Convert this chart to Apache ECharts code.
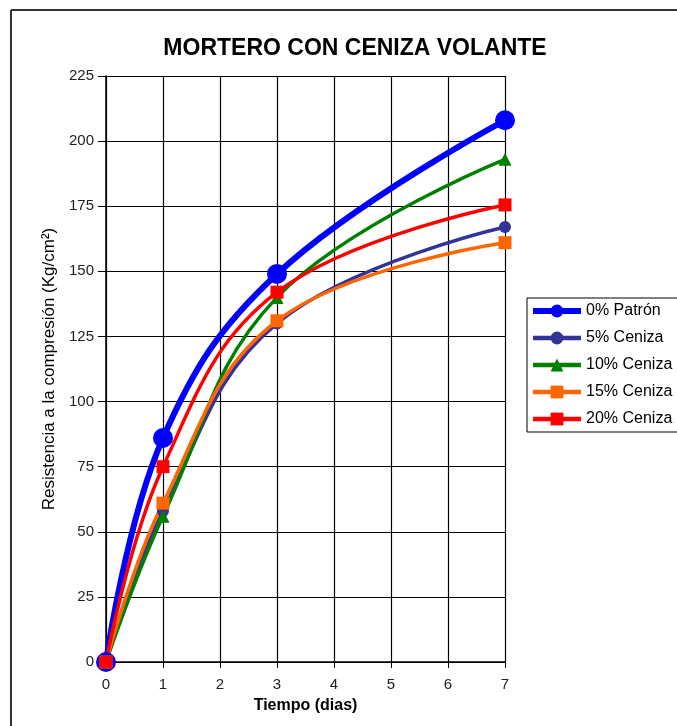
<!DOCTYPE html>
<html>
<head>
<meta charset="utf-8">
<script src="https://cdn.jsdelivr.net/npm/echarts@6/dist/echarts.min.js"></script>
<style>
  html, body { margin: 0; padding: 0; background: #fff; }
  #chart { width: 677px; height: 726px; }
</style>
</head>
<body>
<div id="chart"></div>
<script>
// días de ensayo y resistencias
const dias = [0, 1, 3, 7]
const patron0 = [0, 86, 149, 208]
const ceniza5 = [0, 58, 130, 167]
const ceniza10 = [0, 56, 140, 193]
const ceniza15 = [0, 61, 131, 161]
const ceniza20 = [0, 75, 142, 175.5]
const nombres = ['0% Patrón', '5% Ceniza', '10% Ceniza', '15% Ceniza', '20% Ceniza']

const font = '"Liberation Sans", Arial, sans-serif'

function pares (vals) {
  return dias.map((d, i) => [d, vals[i]])
}

function serie (name, vals, color, width, symbol, size) {
  return {
    name: name,
    type: 'line',
    smooth: 0.4,
    data: pares(vals),
    symbol: symbol,
    symbolSize: size,
    showAllSymbol: true,
    lineStyle: { color: color, width: width },
    itemStyle: { color: color },
    emphasis: { disabled: true }
  }
}

// anchos de línea en la leyenda
const anchoLeyenda = [6, 4.5, 4.5, 4.5, 4.5]

const chart = echarts.init(document.getElementById('chart'))
chart.setOption({
  animation: false,
  textStyle: { fontFamily: font },
  title: {
    text: 'MORTERO CON CENIZA VOLANTE',
    left: 350,
    textAlign: 'center',
    top: 32,
    textStyle: { fontSize: 23, fontWeight: 'bold', color: '#000', fontFamily: font }
  },
  graphic: [
    { type: 'line', shape: { x1: 11, y1: 10, x2: 677, y2: 10 }, style: { stroke: '#333', lineWidth: 2 } },
    { type: 'line', shape: { x1: 11, y1: 10, x2: 11, y2: 726 }, style: { stroke: '#333', lineWidth: 2 } }
  ],
  legend: {
    orient: 'vertical',
    left: 527,
    top: 298,
    data: nombres.map((n, i) => ({ name: n, lineStyle: { width: anchoLeyenda[i] } })),
    borderColor: '#000',
    borderWidth: 1,
    padding: [5, 30, 5, 3],
    itemWidth: 48,
    itemHeight: 16,
    itemGap: 11,
    textStyle: { fontSize: 16, color: '#000', fontFamily: font }
  },
  grid: { left: 106, right: 172, top: 76, bottom: 64, containLabel: false },
  xAxis: {
    type: 'value',
    min: 0,
    max: 7,
    interval: 1,
    name: 'Tiempo (dias)',
    nameLocation: 'middle',
    nameGap: 36,
    nameTextStyle: { fontSize: 16, fontWeight: 'bold', color: '#000', fontFamily: font },
    axisLine: { lineStyle: { color: '#000', width: 1.5 } },
    axisTick: { show: true, length: 6, lineStyle: { color: '#000' } },
    axisLabel: { fontSize: 15, color: '#222', margin: 15 },
    splitLine: { show: true, lineStyle: { color: '#000', width: 1.2 } }
  },
  yAxis: {
    type: 'value',
    min: 0,
    max: 225,
    interval: 25,
    name: 'Resistencia a la compresión (Kg/cm²)',
    nameLocation: 'middle',
    nameGap: 48,
    nameTextStyle: { fontSize: 17, color: '#000', fontFamily: font },
    axisLine: { show: true, lineStyle: { color: '#000', width: 1.5 } },
    axisTick: { show: true, length: 8, lineStyle: { color: '#000' } },
    axisLabel: { fontSize: 15, color: '#222', margin: 12 },
    splitLine: { show: true, lineStyle: { color: '#000', width: 1.2 } }
  },
  series: [
    serie(nombres[0], patron0, '#0000ff', 6, 'circle', 20),
    serie(nombres[1], ceniza5, '#333399', 3.5, 'circle', 12),
    serie(nombres[2], ceniza10, '#008000', 3.5, 'triangle', 13),
    serie(nombres[3], ceniza15, '#ff6600', 3.5, 'rect', 13),
    serie(nombres[4], ceniza20, '#ff0000', 3.5, 'rect', 13)
  ]
})
</script>
</body>
</html>
